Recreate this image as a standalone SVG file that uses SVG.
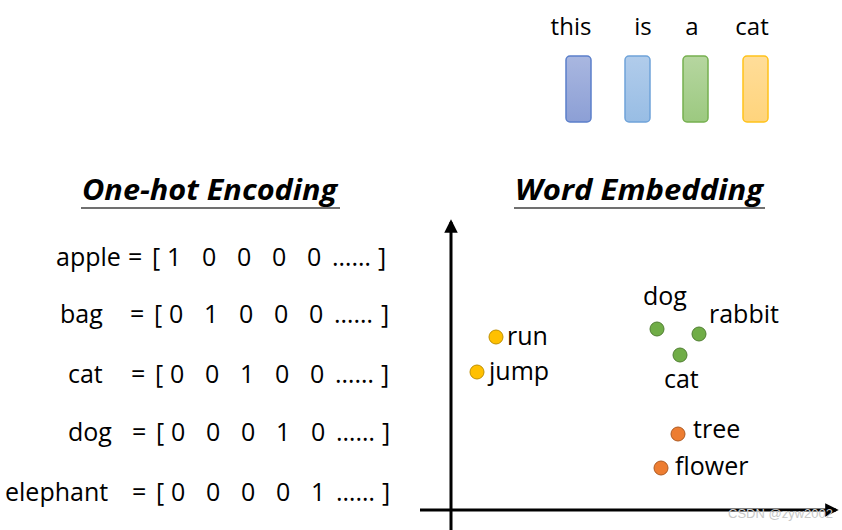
<svg xmlns="http://www.w3.org/2000/svg" width="842" height="530" viewBox="0 0 842 530">
<defs>
<linearGradient id="g1" x1="0" y1="0" x2="0" y2="1"><stop offset="0" stop-color="#a9b7e0"/><stop offset="1" stop-color="#8c9fd5"/></linearGradient>
<linearGradient id="g2" x1="0" y1="0" x2="0" y2="1"><stop offset="0" stop-color="#b1cceb"/><stop offset="1" stop-color="#98bde4"/></linearGradient>
<linearGradient id="g3" x1="0" y1="0" x2="0" y2="1"><stop offset="0" stop-color="#b6d6a0"/><stop offset="1" stop-color="#9cc980"/></linearGradient>
<linearGradient id="g4" x1="0" y1="0" x2="0" y2="1"><stop offset="0" stop-color="#ffdd99"/><stop offset="1" stop-color="#ffd47c"/></linearGradient>
<marker id="arr" viewBox="0 0 10 10" refX="8" refY="5" markerWidth="4.5" markerHeight="4.5" orient="auto" markerUnits="strokeWidth"><path d="M0,0 L10,5 L0,10 z" fill="#000"/></marker>
</defs>
<style>
text{font-family:"Open Sans","Noto Sans",sans-serif;fill:#000}
.w{font-size:24px}
.r{font-size:25px}
.h{font-size:28px;font-weight:bold;font-style:italic}
.bar{stroke-width:1.5}
.ax{stroke:#000;stroke-width:3;fill:none}
.dy{fill:#ffc000;stroke:#bf9000;stroke-width:1}
.dg{fill:#70ad47;stroke:#507e32;stroke-width:1}
.do{fill:#ed7d31;stroke:#ae5a21;stroke-width:1}
.wm{font-family:"Liberation Sans",sans-serif;font-size:13px;fill:#c8c8c8}
</style>
<rect width="842" height="530" fill="#fff"/>

<g id="words">
<text class="w" x="571" y="35" text-anchor="middle">this</text>
<text class="w" x="643" y="35" text-anchor="middle">is</text>
<text class="w" x="692" y="35" text-anchor="middle">a</text>
<text class="w" x="752" y="35" text-anchor="middle">cat</text>
</g>
<g id="bars">
<rect class="bar" x="566" y="56" width="25" height="66" rx="4" fill="url(#g1)" stroke="#5b7fca"/>
<rect class="bar" x="625" y="56" width="25" height="66" rx="4" fill="url(#g2)" stroke="#6fa3d9"/>
<rect class="bar" x="683" y="56" width="25" height="66" rx="4" fill="url(#g3)" stroke="#76b04f"/>
<rect class="bar" x="743" y="56" width="25" height="66" rx="4" fill="url(#g4)" stroke="#ffc21a"/>
</g>

<g id="onehot-title">
<text class="h" x="82" y="200" textLength="255" lengthAdjust="spacingAndGlyphs">One-hot Encoding</text>
<line x1="81" y1="208" x2="340" y2="208" stroke="#404040" stroke-width="1.5"/>
</g>
<g id="embed-title">
<text class="h" x="515" y="200" textLength="248" lengthAdjust="spacingAndGlyphs">Word Embedding</text>
<line x1="514" y1="208" x2="765" y2="208" stroke="#404040" stroke-width="1.5"/>
</g>

<g id="onehot-rows">
<text class="r" y="266"><tspan x="56">apple</tspan><tspan x="128">=</tspan><tspan x="152">[</tspan><tspan x="167">1</tspan><tspan x="202">0</tspan><tspan x="237">0</tspan><tspan x="272">0</tspan><tspan x="307">0</tspan><tspan x="332">……</tspan><tspan x="378">]</tspan></text>
<text class="r" y="323"><tspan x="60">bag</tspan><tspan x="130">=</tspan><tspan x="154">[</tspan><tspan x="169">0</tspan><tspan x="204">1</tspan><tspan x="239">0</tspan><tspan x="274">0</tspan><tspan x="309">0</tspan><tspan x="334">……</tspan><tspan x="381">]</tspan></text>
<text class="r" y="383"><tspan x="68">cat</tspan><tspan x="131">=</tspan><tspan x="155">[</tspan><tspan x="170">0</tspan><tspan x="205">0</tspan><tspan x="240">1</tspan><tspan x="275">0</tspan><tspan x="310">0</tspan><tspan x="335">……</tspan><tspan x="381">]</tspan></text>
<text class="r" y="441"><tspan x="68">dog</tspan><tspan x="132">=</tspan><tspan x="156">[</tspan><tspan x="171">0</tspan><tspan x="206">0</tspan><tspan x="241">0</tspan><tspan x="276">1</tspan><tspan x="311">0</tspan><tspan x="336">……</tspan><tspan x="382">]</tspan></text>
<text class="r" y="501"><tspan x="5">elephant</tspan><tspan x="132">=</tspan><tspan x="156">[</tspan><tspan x="171">0</tspan><tspan x="206">0</tspan><tspan x="241">0</tspan><tspan x="276">0</tspan><tspan x="311">1</tspan><tspan x="336">……</tspan><tspan x="382">]</tspan></text>
</g>

<g id="axes">
<line class="ax" x1="451" y1="530" x2="451" y2="222" marker-end="url(#arr)"/>
<line class="ax" x1="420" y1="510" x2="836" y2="510" marker-end="url(#arr)"/>
</g>

<g id="run"><circle class="dy" cx="496" cy="337" r="7"/><text class="r" x="507" y="345">run</text></g>
<g id="jump"><circle class="dy" cx="477" cy="372" r="7"/><text class="r" x="489" y="380">jump</text></g>
<g id="dog"><circle class="dg" cx="657" cy="329" r="7"/><text class="r" x="643" y="305">dog</text></g>
<g id="rabbit"><circle class="dg" cx="699" cy="334" r="7"/><text class="r" x="709" y="323">rabbit</text></g>
<g id="cat"><circle class="dg" cx="680" cy="355" r="7"/><text class="r" x="664" y="388">cat</text></g>
<g id="tree"><circle class="do" cx="678" cy="434" r="7"/><text class="r" x="693" y="438">tree</text></g>
<g id="flower"><circle class="do" cx="661" cy="468" r="7"/><text class="r" x="675" y="475">flower</text></g>

<text class="wm" x="728" y="518">CSDN @zyw2002</text>
</svg>
